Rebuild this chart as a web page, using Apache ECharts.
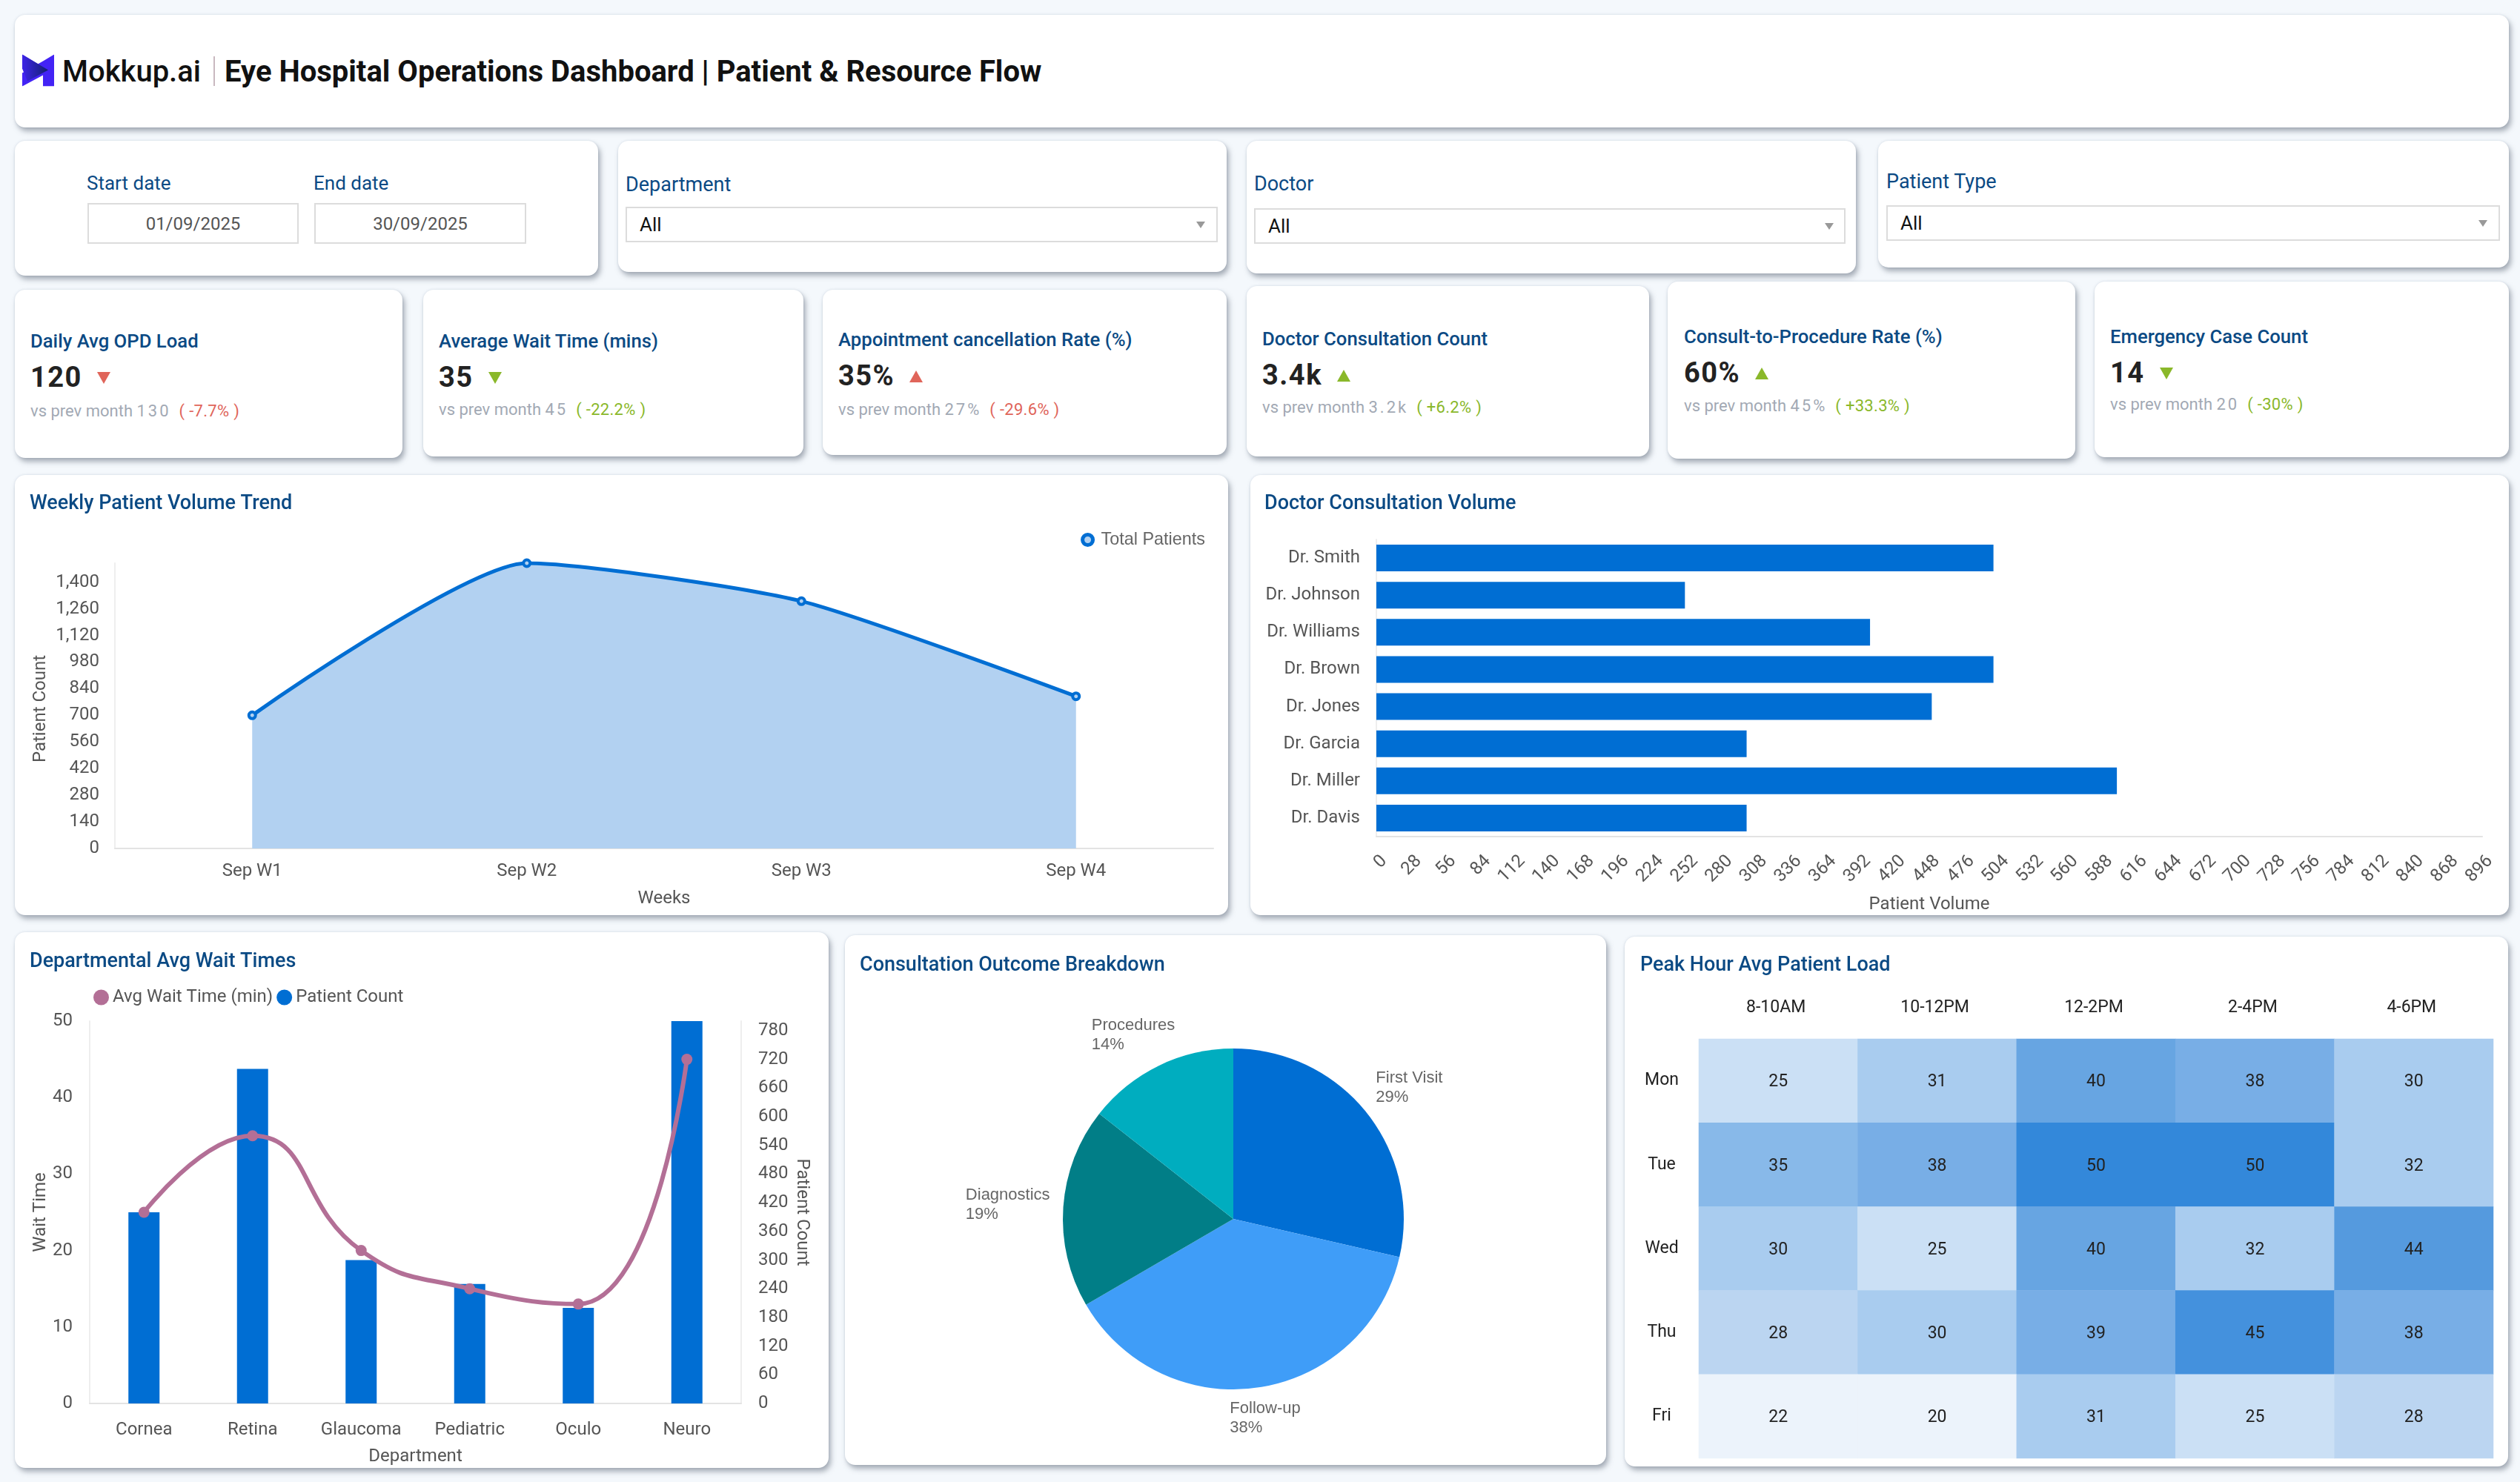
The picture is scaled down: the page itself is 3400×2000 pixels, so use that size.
<!DOCTYPE html>
<html>
<head>
<meta charset="utf-8">
<title>Eye Hospital Operations Dashboard</title>
<script src="https://cdn.jsdelivr.net/npm/echarts@6/dist/echarts.min.js"></script>
<style>
html,body{margin:0;padding:0;background:#f4f8fc;}
body{width:3400px;height:2000px;position:relative;overflow:hidden;font-family:Roboto,"Liberation Sans",sans-serif;}
.card{position:absolute;background:#fff;border-radius:14px;box-shadow:3px 5px 7px rgba(90,100,115,.5),0 0 3px rgba(170,185,205,.4);}
.abs{position:absolute;white-space:nowrap;line-height:1;transform:translateY(-50%);}
.label{font-size:27px;color:#0b4a84;}
.input{position:absolute;box-sizing:border-box;background:#fff;border:2px solid #dcdcdc;font-size:24px;color:#555;line-height:1;display:flex;align-items:center;justify-content:center;}
.select{justify-content:flex-start;color:#111;font-size:26px;padding-left:17px;}
.arrow{position:absolute;width:0;height:0;border-left:6px solid transparent;border-right:6px solid transparent;border-top:9px solid #999;}
.kpiTitle{font-size:25.7px;font-weight:500;color:#0b4a84;}
.kpiValue{font-size:38px;font-weight:700;color:#222;letter-spacing:1.5px;}
.kpiSub{font-size:22px;color:#a2a9b4;}
.kpiSub b{font-weight:400;letter-spacing:3px;}
.kpiSub span{letter-spacing:.3px;margin-left:11px;}
.tri{position:absolute;width:0;height:0;border-left:9px solid transparent;border-right:9px solid transparent;}
.chart{position:absolute;}
</style>
</head>
<body>
<div class="card" style="left:20px;top:20px;width:3365px;height:152px"></div>
<svg class="abs" style="left:30px;top:95px;width:43px;height:43px" viewBox="0 0 43 43">
  <defs><linearGradient id="logoGrad" x1="0" x2="1" y1="0" y2="0"><stop offset="0" stop-color="#3d24e8"/><stop offset="1" stop-color="#12206e"/></linearGradient></defs>
  <polygon points="43,0 43,43 28,43 28,28 0,43 0,25 7,21 28,9" fill="#4323f5"/>
  <polygon points="0,0 35,21 10,28 0,19" fill="#4323f5"/>
  <polygon points="0,0 35,21 7,36 0,19" fill="url(#logoGrad)"/>
</svg>
<div class="abs" id="brand" style="left:84px;top:97px;font-size:40px;font-weight:500;color:#111">Mokkup.ai</div>
<div class="abs" style="left:288px;top:96px;width:2px;height:40px;background:#c9b8c0"></div>
<div class="abs" id="mainTitle" style="left:303px;top:97px;font-size:40px;font-weight:700;color:#111">Eye Hospital Operations Dashboard | Patient &amp; Resource Flow</div>

<div class="card" style="left:20px;top:190px;width:787px;height:182px"></div>
<div class="abs label" style="left:117px;top:247px;font-size:26px">Start date</div>
<div class="abs label" style="left:423px;top:247px;font-size:26px">End date</div>
<div class="input" style="left:118px;top:274px;width:285px;height:55px">01/09/2025</div>
<div class="input" style="left:424px;top:274px;width:286px;height:55px">30/09/2025</div>

<div class="card" style="left:834px;top:190px;width:821px;height:177px"></div>
<div class="abs label" style="left:844px;top:249px">Department</div>
<div class="input select" style="left:844px;top:279px;width:799px;height:48px">All</div>
<div class="arrow" style="left:1614px;top:299px"></div>

<div class="card" style="left:1682px;top:190px;width:822px;height:179px"></div>
<div class="abs label" style="left:1692px;top:248px">Doctor</div>
<div class="input select" style="left:1692px;top:281px;width:798px;height:48px">All</div>
<div class="arrow" style="left:2462px;top:301px"></div>

<div class="card" style="left:2534px;top:190px;width:851px;height:171px"></div>
<div class="abs label" style="left:2545px;top:245px">Patient Type</div>
<div class="input select" style="left:2545px;top:277px;width:828px;height:48px">All</div>
<div class="arrow" style="left:3344px;top:297px"></div>

<div id="kpis"></div>

<div class="card" style="left:20px;top:641px;width:1637px;height:594px"></div>
<div class="card" style="left:1687px;top:641px;width:1698px;height:594px"></div>
<div class="card" style="left:20px;top:1258px;width:1098px;height:723px"></div>
<div class="card" style="left:1140px;top:1262px;width:1027px;height:715px"></div>
<div class="card" style="left:2192px;top:1264px;width:1192px;height:715px"></div>

<div class="chart" id="lineChart" style="left:20px;top:641px;width:1637px;height:594px"></div>
<div class="chart" id="barChart" style="left:1687px;top:641px;width:1698px;height:594px"></div>
<div class="chart" id="comboChart" style="left:20px;top:1258px;width:1098px;height:723px"></div>
<div class="chart" id="pieChart" style="left:1140px;top:1262px;width:1027px;height:715px"></div>
<div class="chart" id="heatChart" style="left:2192px;top:1264px;width:1192px;height:715px"></div>

<script>
//数据
var weeks = ['Sep W1','Sep W2','Sep W3','Sep W4'];
var weeklyPatients = [700,1500,1300,800];
var doctors = ['Dr. Smith','Dr. Johnson','Dr. Williams','Dr. Brown','Dr. Jones','Dr. Garcia','Dr. Miller','Dr. Davis'];
var doctorVolume = [500,250,400,500,450,300,600,300];
var departments = ['Cornea','Retina','Glaucoma','Pediatric','Oculo','Neuro'];
var deptWait = [25,35,20,15,13,45];
var deptPatients = [400,700,300,250,200,800];
var outcomeNames = ['First Visit','Follow-up','Diagnostics','Procedures'];
var outcomeValues = [28.6,38,19,14.4];
var outcomeColors = ['#006ed3','#3f9df8','#017e87','#00adbf'];
var slots = ['8-10AM','10-12PM','12-2PM','2-4PM','4-6PM'];
var days = ['Mon','Tue','Wed','Thu','Fri'];
var loadMon = [25,31,40,38,30];
var loadTue = [35,38,50,50,32];
var loadWed = [30,25,40,32,44];
var loadThu = [28,30,39,45,38];
var loadFri = [22,20,31,25,28];
var loadRows = [loadMon,loadTue,loadWed,loadThu,loadFri];
var heatPieces = [
	{min:20,max:24,color:'#ecf3fb'},
	{min:25,max:27,color:'#cbe0f5'},
	{min:28,max:29,color:'#bbd5f1'},
	{min:30,max:34,color:'#a9ccef'},
	{min:35,max:37,color:'#88b9e9'},
	{min:38,max:39,color:'#78aee6'},
	{min:40,max:43,color:'#67a5e2'},
	{min:44,max:44,color:'#559ade'},
	{min:45,max:49,color:'#4491dd'},
	{min:50,max:50,color:'#3388da'}
];
var kpiTitles = ['Daily Avg OPD Load','Average Wait Time (mins)','Appointment cancellation Rate (%)','Doctor Consultation Count','Consult-to-Procedure Rate (%)','Emergency Case Count'];
var kpiValues = ['120','35','35%','3.4k','60%','14'];
var kpiPrev = ['130','45','27%','3.2k','45%','20'];
var kpiDelta = ['-7.7%','-22.2%','-29.6%','+6.2%','+33.3%','-30%'];
var kpiUp = [false,false,true,true,true,false];
var kpiGood = [false,true,false,true,true,true];

var font = 'Roboto, "Liberation Sans", sans-serif';
var plainFont = '"Liberation Sans", Arial, sans-serif';
var titleColor = '#0b4a84';
var axisText = '#555';
var blue = '#006ed3';
var areaBlue = '#b2d1f1';
var pink = '#b36f96';

//KPI卡片
var kpiCards = [
	{x:20,y:391,w:523,h:227,tx:41,ty:461,vy:509,sy:555},
	{x:571,y:391,w:513,h:225,tx:592,ty:461,vy:509,sy:553},
	{x:1110,y:391,w:545,h:223,tx:1131,ty:459,vy:507,sy:553},
	{x:1682,y:386,w:543,h:230,tx:1703,ty:458,vy:506,sy:550},
	{x:2250,y:380,w:550,h:239,tx:2272,ty:455,vy:503,sy:548},
	{x:2826,y:380,w:559,h:237,tx:2847,ty:455,vy:503,sy:546}
];
var kpiHtml = '';
kpiCards.forEach(function(c,i){
	var color = kpiGood[i] ? '#8ab82a' : '#e0655a';
	kpiHtml += '<div class="card" style="left:'+c.x+'px;top:'+c.y+'px;width:'+c.w+'px;height:'+c.h+'px"></div>';
	kpiHtml += '<div class="abs kpiTitle" style="left:'+c.tx+'px;top:'+c.ty+'px">'+kpiTitles[i]+'</div>';
	kpiHtml += '<div class="abs kpiValue" id="val'+i+'" style="left:'+c.tx+'px;top:'+c.vy+'px">'+kpiValues[i]+'</div>';
	kpiHtml += '<div class="tri" id="tri'+i+'" style="top:'+(c.vy-7)+'px;'+(kpiUp[i]?'border-bottom':'border-top')+':16px solid '+color+'"></div>';
	kpiHtml += '<div class="abs kpiSub" style="left:'+c.tx+'px;top:'+c.sy+'px">vs prev month <b>'+kpiPrev[i]+'</b><span style="color:'+color+'">( '+kpiDelta[i]+' )</span></div>';
});
document.getElementById('kpis').innerHTML = kpiHtml;
kpiCards.forEach(function(c,i){
	var w = document.getElementById('val'+i).offsetWidth;
	document.getElementById('tri'+i).style.left = (c.tx+w+20)+'px';
});

function chartTitle(text,left,top){
	return {text:text,left:left,top:top,padding:0,textStyle:{fontFamily:font,fontSize:27,fontWeight:500,color:titleColor}};
}
function nameStyle(){
	return {fontFamily:font,fontSize:24,color:axisText};
}
var lightLine = {show:true,lineStyle:{color:'#e3e3e3',width:2}};
var paleLine = {show:true,lineStyle:{color:'#eeeeee',width:2}};

//周趋势
var lineChart = echarts.init(document.getElementById('lineChart'));
lineChart.setOption({
	animation:false,
	title:chartTitle('Weekly Patient Volume Trend',20,26),
	legend:{
		right:31,top:76,padding:0,icon:'circle',itemWidth:14,itemHeight:14,itemGap:5,
		textStyle:{fontFamily:plainFont,fontSize:23.4,color:'#666',padding:[0,0,0,6]},
		data:[{name:'Total Patients',itemStyle:{color:areaBlue,borderColor:blue,borderWidth:5}}]
	},
	grid:{left:135,right:20,top:119,bottom:90,outerBoundsMode:'none'},
	xAxis:{
		type:'category',data:weeks,name:'Weeks',nameLocation:'middle',nameGap:56,nameMoveOverlap:false,nameTextStyle:nameStyle(),
		axisTick:{show:false},axisLine:lightLine,axisLabel:{fontFamily:font,fontSize:24,color:axisText,margin:19}
	},
	yAxis:{
		type:'value',min:0,max:1500,interval:140,name:'Patient Count',nameLocation:'middle',nameGap:88,nameMoveOverlap:false,
		nameTextStyle:{fontFamily:font,fontSize:24,color:axisText,padding:[0,8,0,0]},
		axisTick:{show:false},axisLine:paleLine,splitLine:{show:false},
		axisLabel:{fontFamily:font,fontSize:24,color:axisText,margin:21,showMaxLabel:false,formatter:function(v){return v.toLocaleString('en-US');}}
	},
	series:[{
		name:'Total Patients',type:'line',data:weeklyPatients,smooth:0.2,symbol:'circle',symbolSize:9,
		lineStyle:{color:blue,width:5},itemStyle:{color:areaBlue,borderColor:blue,borderWidth:4},
		areaStyle:{color:areaBlue,opacity:1}
	}]
});

//医生问诊量
var barChart = echarts.init(document.getElementById('barChart'));
barChart.setOption({
	animation:false,
	title:chartTitle('Doctor Consultation Volume',19,26),
	grid:{left:170,right:36,top:87,bottom:106,outerBoundsMode:'none'},
	xAxis:{
		type:'value',min:0,max:896,interval:28,name:'Patient Volume',nameLocation:'middle',nameGap:80,nameMoveOverlap:false,nameTextStyle:nameStyle(),
		axisTick:{show:false},axisLine:lightLine,splitLine:{show:false},
		axisLabel:{fontFamily:font,fontSize:24,color:axisText,rotate:45,margin:40,padding:[0,-15,0,0],hideOverlap:false}
	},
	yAxis:{
		type:'category',data:doctors,inverse:true,
		axisTick:{show:false},axisLine:paleLine,
		axisLabel:{fontFamily:font,fontSize:24,color:axisText,margin:22}
	},
	series:[{type:'bar',data:doctorVolume,barWidth:36,itemStyle:{color:blue}}]
});

//科室等待时间
var comboChart = echarts.init(document.getElementById('comboChart'));
comboChart.setOption({
	animation:false,
	title:chartTitle('Departmental Avg Wait Times',20,27),
	legend:{
		left:106,top:76,padding:0,icon:'circle',itemWidth:21,itemHeight:21,itemGap:5,
		textStyle:{fontFamily:font,fontSize:24,color:axisText},
		data:['Avg Wait Time (min)','Patient Count']
	},
	grid:{left:101,right:118,top:120,bottom:87,outerBoundsMode:'none'},
	xAxis:{
		type:'category',data:departments,name:'Department',nameLocation:'middle',nameGap:60,nameMoveOverlap:false,nameTextStyle:nameStyle(),
		axisTick:{show:false},axisLine:lightLine,axisLabel:{fontFamily:font,fontSize:24,color:axisText,margin:24,interval:0}
	},
	yAxis:[{
		type:'value',min:0,max:50,interval:10,name:'Wait Time',nameLocation:'middle',nameGap:54,nameMoveOverlap:false,nameTextStyle:nameStyle(),
		axisTick:{show:false},axisLine:paleLine,splitLine:{show:false},
		axisLabel:{fontFamily:font,fontSize:24,color:axisText,margin:23}
	},{
		type:'value',min:0,max:800,interval:60,name:'Patient Count',nameLocation:'middle',nameGap:70,nameRotate:-90,nameMoveOverlap:false,nameTextStyle:nameStyle(),
		axisTick:{show:false},axisLine:paleLine,splitLine:{show:false},
		axisLabel:{fontFamily:font,fontSize:24,color:axisText,margin:23,showMaxLabel:false}
	}],
	series:[
		{name:'Patient Count',type:'bar',yAxisIndex:1,data:deptPatients,barWidth:42,itemStyle:{color:blue}},
		{name:'Avg Wait Time (min)',type:'line',yAxisIndex:0,data:deptWait,smooth:0.5,symbol:'circle',symbolSize:15,
			lineStyle:{color:pink,width:6},itemStyle:{color:pink},z:5}
	]
});

//问诊结果
var labelShift = [[-2,-26],[-46,30],[-1,-2],[32,-30]]; //标签相对默认位置的偏移
var pieChart = echarts.init(document.getElementById('pieChart'));
pieChart.setOption({
	animation:false,
	title:chartTitle('Consultation Outcome Breakdown',20,28),
	series:[{
		type:'pie',center:[524,383],radius:[0,230],startAngle:90,clockwise:true,percentPrecision:0,
		color:outcomeColors,
		data:outcomeNames.map(function(n,i){return {name:n,value:outcomeValues[i]};}),
		itemStyle:{borderWidth:0},
		label:{show:true,position:'outer',formatter:'{b}\n{d}%',fontFamily:plainFont,fontSize:22,lineHeight:26,color:'#666',align:'left'},
		labelLine:{show:false,length:12,length2:0},
		labelLayout:function(p){
			var s = labelShift[p.dataIndex];
			return {x:p.labelRect.x+s[0],y:p.labelRect.y+s[1],align:'left',verticalAlign:'top'};
		}
	}]
});

//高峰时段热力图
var heatData = [];
loadRows.forEach(function(row,y){
	row.forEach(function(v,x){
		heatData.push([x,y,v]);
	});
});
var heatChart = echarts.init(document.getElementById('heatChart'));
heatChart.setOption({
	animation:false,
	title:chartTitle('Peak Hour Avg Patient Load',21,26),
	grid:{left:100,right:20,top:138,bottom:11,outerBoundsMode:'none'},
	xAxis:{
		type:'category',data:slots,position:'top',axisTick:{show:false},axisLine:{show:false},splitLine:{show:false},splitArea:{show:false},
		axisLabel:{fontFamily:font,fontSize:23,color:'#222',margin:30,padding:[0,6,0,0]}
	},
	yAxis:{
		type:'category',data:days,inverse:true,axisTick:{show:false},axisLine:{show:false},splitLine:{show:false},
		axisLabel:{fontFamily:font,fontSize:23,color:'#222',margin:50,align:'center',padding:[12,0,0,0]}
	},
	visualMap:{show:false,type:'piecewise',dimension:2,pieces:heatPieces},
	series:[{
		type:'heatmap',data:heatData,
		label:{show:true,fontFamily:font,fontSize:23,color:'#222',offset:[0,2]},
		itemStyle:{borderWidth:0}
	}]
});
</script>
</body>
</html>
